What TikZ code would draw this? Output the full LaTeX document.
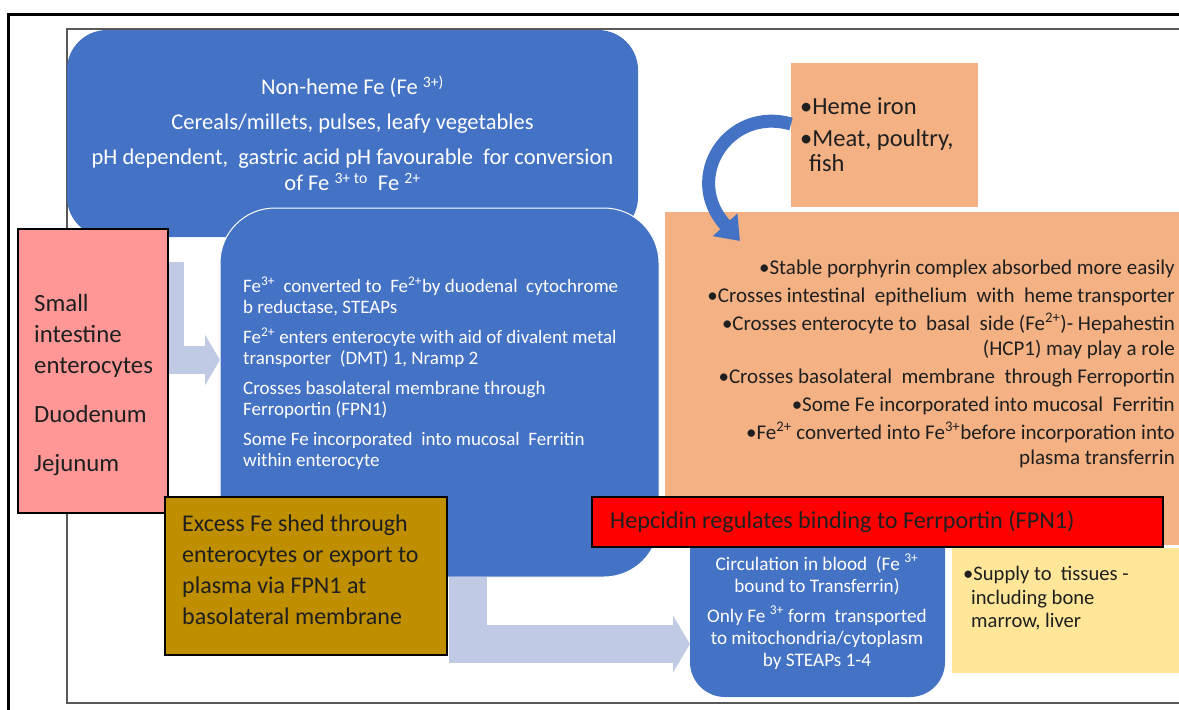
\documentclass[tikz,border=0pt]{standalone}
\usepackage{fontspec}
\setmainfont{Carlito}
\usepackage{tikz}
\usetikzlibrary{arrows.meta}

\definecolor{boxblue}{HTML}{4472C4}
\definecolor{softblue}{HTML}{C1CAE4}
\definecolor{pinkbox}{HTML}{FF9797}
\definecolor{goldbox}{HTML}{BF8F00}
\definecolor{hemeorange}{HTML}{F4B183}
\definecolor{tissueyellow}{HTML}{FFE699}
\definecolor{framegray}{HTML}{595959}

\begin{document}
\begin{tikzpicture}[x=1pt, y=-1pt,
    panel/.style={anchor=north west, inner sep=0pt, outer sep=0pt},
    bluetext/.style={text=white, inner sep=0pt},
    darktext/.style={text=black!88, inner sep=0pt},
    softarrow/.style={draw=softblue, line join=miter}]
\useasboundingbox (0,0) rectangle (1179,710);

% frames
\draw[line width=3pt] (8,712) -- (8,14) -- (1182,14);
\draw[framegray, line width=1.5pt] (1182,29) -- (67,29) -- (67,703) -- (1182,703);

% bent arrow into the enterocyte
\coordinate (armone) at (170,262);
\coordinate (armoneend) at (220,360);
\draw[softarrow, line width=28pt, -{Triangle[width=50pt,length=15pt]}] (armone) |- (armoneend);

% non-heme iron
\node[panel, fill=boxblue, rounded corners=40pt, minimum width=571pt, minimum height=207pt] (nonheme) at (67,30) {};
\node[bluetext, align=center, font=\fontsize{22.5pt}{26pt}\selectfont] (nonhemetext) at (nonheme.center)
  {Non-heme Fe (Fe \textsuperscript{3+)}\\[9pt]
   Cereals/millets, pulses, leafy vegetables\\[9pt]
   pH dependent, \ gastric acid pH favourable \ for conversion\\
   of Fe \textsuperscript{3+ to} \ Fe \textsuperscript{2+}};

% enterocyte
\node[panel, fill=boxblue, draw=white, line width=1pt, rounded corners=55pt, minimum width=439pt, minimum height=369pt] (entero) at (220,208) {};
\node[bluetext, anchor=north west, align=left, font=\fontsize{19pt}{21pt}\selectfont] (enterotext) at (243,277)
  {Fe\textsuperscript{3+} \ converted to \ Fe\textsuperscript{2+}by duodenal \ cytochrome\\
   b reductase, STEAPs\\[9pt]
   Fe\textsuperscript{2+} enters enterocyte with aid of divalent metal\\
   transporter \ (DMT) 1, Nramp 2\\[9pt]
   Crosses basolateral membrane through\\
   Ferroportin (FPN1)\\[9pt]
   Some Fe incorporated \ into mucosal \ Ferritin\\
   within enterocyte};

% site
\node[panel, fill=pinkbox, draw=black, line width=1.2pt, minimum width=150pt, minimum height=284pt] (site) at (18,229) {};
\node[darktext, anchor=north west, align=left, font=\fontsize{24.8pt}{31pt}\selectfont] (sitetext) at (34,294)
  {Small\\ intestine\\ enterocytes\\[18pt] Duodenum\\[18pt] Jejunum};

% arrow to the blood
\coordinate (armtwo) at (468,577);
\coordinate (armtwoend) at (690,644);
\draw[softarrow, line width=38pt, -{Triangle[width=56pt,length=17pt]}] (armtwo) |- (armtwoend);

% excess iron
\node[panel, fill=goldbox, draw=black, line width=1.2pt, minimum width=282pt, minimum height=158pt] (excess) at (165,497) {};
\node[darktext, anchor=north west, align=left, font=\fontsize{24pt}{31pt}\selectfont] (excesstext) at (182,514.5)
  {Excess Fe shed through\\ enterocytes or export to\\ plasma via FPN1 at\\ basolateral membrane};

% blood
\node[panel, fill=boxblue, rounded corners=35pt, minimum width=255pt, minimum height=185pt] (blood) at (690,512) {};
\node[bluetext, anchor=north, align=center, font=\fontsize{19.2pt}{22pt}\selectfont] (bloodtext) at (817,554)
  {Circulation in blood \ (Fe \textsuperscript{3+}\\ bound to Transferrin)\\[8pt]
   Only Fe \textsuperscript{3+} form \ transported\\ to mitochondria/cytoplasm\\ by STEAPs 1-4};

% heme iron
\node[panel, fill=hemeorange, minimum width=520pt, minimum height=333pt] (hemepath) at (665,212) {};
\node[darktext, anchor=north east, align=right, font=\fontsize{21pt}{25pt}\selectfont] (hemepathtext) at (1175,259.5)
  {\textbullet Stable porphyrin complex absorbed more easily\\[3pt]
   \textbullet Crosses intestinal \ epithelium \ with \ heme transporter\\[3pt]
   \textbullet Crosses enterocyte to \ basal \ side (Fe\textsuperscript{2+})- Hepahestin\\
   (HCP1) may play a role\\[3pt]
   \textbullet Crosses basolateral \ membrane \ through Ferroportin\\[3pt]
   \textbullet Some Fe incorporated into mucosal \ Ferritin\\[3pt]
   \textbullet Fe\textsuperscript{2+} converted into Fe\textsuperscript{3+}before incorporation into\\
   plasma transferrin};
\node[panel, fill=hemeorange, minimum width=187pt, minimum height=144pt] (heme) at (791,63) {};
\node[darktext, anchor=north west, align=left, font=\fontsize{24.5pt}{25pt}\selectfont] (hemetext) at (800,97.5)
  {\textbullet Heme iron\\[7pt] \textbullet Meat, poultry,\\ \hspace{9pt}fish};
\draw[boxblue, line width=13pt, -{Triangle[width=32pt,length=22pt]}] (heme.west |- 0,124) .. controls (728,106) and (682,178) .. (740,241);

% hepcidin
\node[panel, fill=red, draw=black, line width=1.2pt, minimum width=571pt, minimum height=50pt] (hepcidin) at (592,497) {};
\node[darktext, anchor=west, font=\fontsize{24.2pt}{26pt}\selectfont] (hepcidintext) at (610,522)
  {Hepcidin regulates binding to Ferrportin (FPN1)};

% tissues
\node[panel, fill=tissueyellow, minimum width=230pt, minimum height=125pt] (tissue) at (952,548) {};
\node[darktext, anchor=north west, align=left, font=\fontsize{20.6pt}{23.5pt}\selectfont] (tissuetext) at (963,566)
  {\textbullet Supply to \ tissues -\\ \hspace{8pt}including bone\\ \hspace{8pt}marrow, liver};
\end{tikzpicture}
\end{document}
